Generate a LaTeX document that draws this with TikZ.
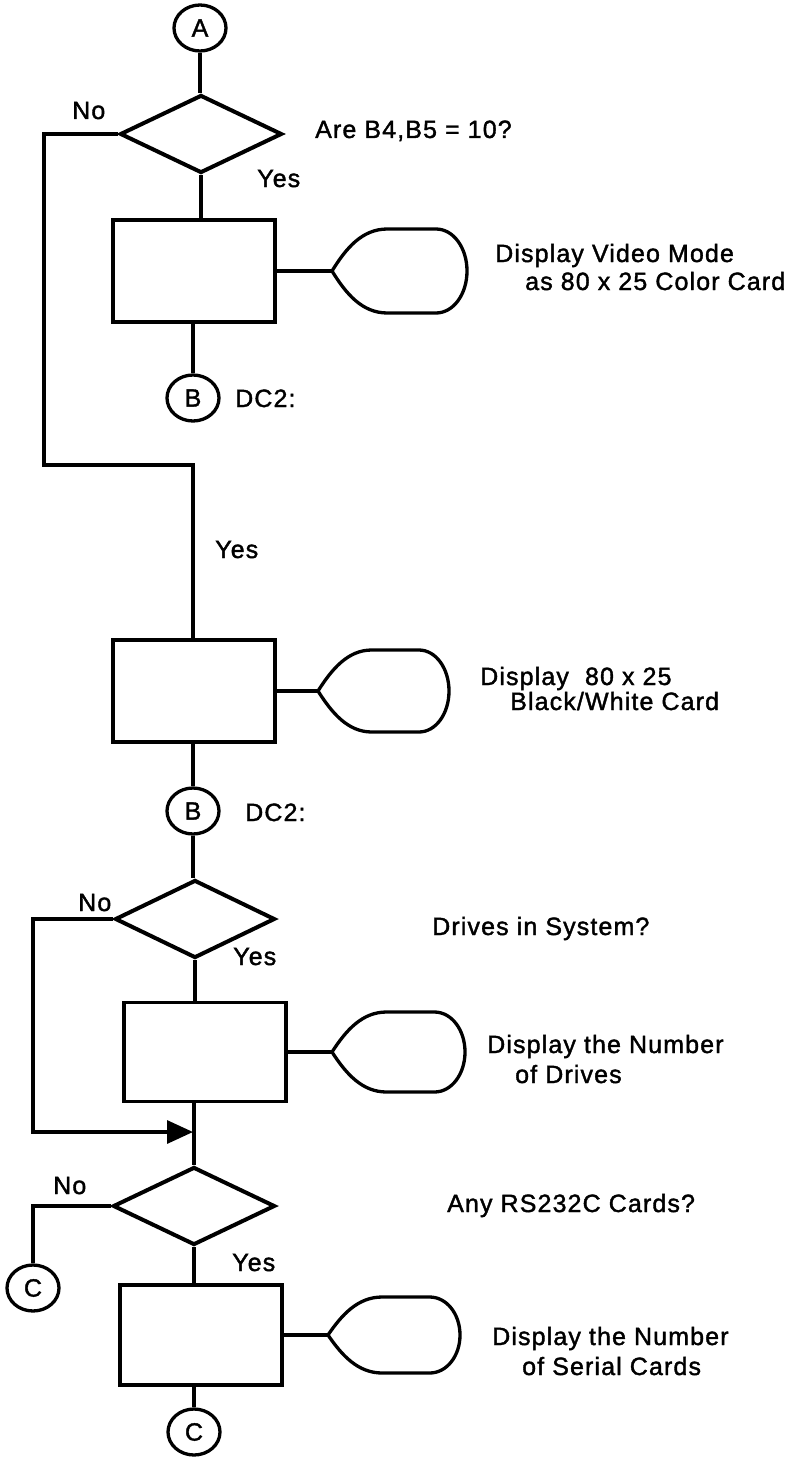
\documentclass[tikz,border=0pt]{standalone}
\usepackage{fontspec}
\setmainfont{Liberation Sans}[LetterSpace=4.5,FakeBold=1.5]
\usetikzlibrary{shapes.geometric,arrows.meta}
\tikzset{
  conn/.style={line width=3.3pt},
  decision/.style={draw,diamond,line width=4pt,minimum width=162pt,minimum height=78pt,inner sep=0pt},
  procbox/.style={draw,rectangle,line width=3.6pt,minimum width=162pt,inner sep=0pt},
  onpage/.style={draw,ellipse,line width=3.3pt,minimum width=52pt,minimum height=46pt,inner sep=0pt,font=\fontsize{25}{30}\selectfont},
  lbl/.style={anchor=base west,inner sep=0pt,font=\fontsize{25}{30}\selectfont},
  dispshape/.style={line width=3.3pt}
}
\newcommand\drawdisplay[3]{%
  \draw[dispshape,shift={(#1)}] (0,0) .. controls (14,{-0.54*#3}) and (30,{-#3}) .. ({0.41*#2},{-#3})
    -- ({0.77*#2},{-#3}) .. controls ({0.9*#2},{-#3}) and (#2,{-0.55*#3}) .. (#2,0)
    .. controls (#2,{0.55*#3}) and ({0.9*#2},#3) .. ({0.77*#2},#3)
    -- ({0.41*#2},#3) .. controls (30,#3) and (14,{0.54*#3}) .. (0,0) -- cycle;}
\begin{document}
\begin{tikzpicture}[x=1pt,y=-1pt]
\useasboundingbox[fill=white] (0,0) rectangle (792,1458);
% nodes
\node[onpage] (A) at (200,28) {A};
\node[decision] (d1) at (201,134) {};
\node[procbox,minimum height=102pt] (box1) at (194,271) {};
\node[onpage] (b1) at (193,398) {B};
\node[procbox,minimum height=102pt] (box2) at (194,691) {};
\node[onpage] (b2) at (193,811) {B};
\node[decision,minimum width=160pt] (d3) at (195,919) {};
\node[procbox,minimum height=99pt] (box3) at (205,1052) {};
\node[decision] (d4) at (194,1206) {};
\node[procbox,minimum height=100pt] (box4) at (201,1335) {};
\node[onpage] (c1) at (33,1288) {C};
\node[onpage] (c2) at (194,1432) {C};
% helper coordinates
\coordinate (n1) at (44,134);
\coordinate (n2) at (44,465);
\coordinate (n3) at (193,465);
\coordinate (m1) at (33,919);
\coordinate (m2) at (33,1132);
\coordinate (j) at (193,1132);
\coordinate (k1) at (33,1206);
\coordinate (p1) at (332,271);
\coordinate (p2) at (318,691);
\coordinate (p3) at (332,1052);
\coordinate (p4) at (328,1335);
% displays
\drawdisplay{p1}{135}{42}
\drawdisplay{p2}{131}{41}
\drawdisplay{p3}{133}{40}
\drawdisplay{p4}{132}{38}
% connectors
\draw[conn] (A.south) -- (A.south |- d1.north);
\draw[conn] (d1.south) -- (d1.south |- box1.north);
\draw[conn] (b1.north |- box1.south) -- (b1.north);
\draw[conn] (d1.west) -- (n1) -- (n2) -- (n3) -- (n3 |- box2.north);
\draw[conn] (b2.north |- box2.south) -- (b2.north);
\draw[conn] (b2.south) -- (b2.south |- d3.north);
\draw[conn,-{Triangle[length=26pt,width=23pt]}] (d3.west) -- (m1) -- (m2) -- (j);
\draw[conn] (d3.south) -- (d3.south |- box3.north);
\draw[conn] (d4.north |- box3.south) -- (d4.north);
\draw[conn] (d4.west) -- (k1) -- (c1.north);
\draw[conn] (d4.south) -- (d4.south |- box4.north);
\draw[conn] (c2.north |- box4.south) -- (c2.north);
\draw[conn] (box1.east) -- (p1);
\draw[conn] (box2.east) -- (p2);
\draw[conn] (box3.east) -- (p3);
\draw[conn] (box4.east) -- (p4);
% labels
\node[lbl] (t1) at (72,119) {No};
\node[lbl] (t2) at (257,187) {Yes};
\node[lbl] (t3) at (315,138) {Are B4,B5 = 10?};
\node[lbl] (t4) at (495,262) {Display Video Mode};
\node[lbl] (t5) at (525,290) {as 80 x 25 Color Card};
\node[lbl] (t6) at (235,407) {DC2:};
\node[lbl] (t7) at (215,558) {Yes};
\node[lbl] (t8) at (480,685) {Display\ \ 80 x 25};
\node[lbl] (t9) at (510,710) {Black/White Card};
\node[lbl] (t10) at (245,821) {DC2:};
\node[lbl] (t11) at (78,911) {No};
\node[lbl] (t12) at (233,965) {Yes};
\node[lbl] (t13) at (432,935) {Drives in System?};
\node[lbl] (t14) at (487,1053) {Display the Number};
\node[lbl] (t15) at (515,1083) {of Drives};
\node[lbl] (t16) at (53,1194) {No};
\node[lbl] (t17) at (232,1271) {Yes};
\node[lbl] (t18) at (447,1212) {Any RS232C Cards?};
\node[lbl] (t19) at (492,1345) {Display the Number};
\node[lbl] (t20) at (522,1375) {of Serial Cards};
\end{tikzpicture}
\end{document}
